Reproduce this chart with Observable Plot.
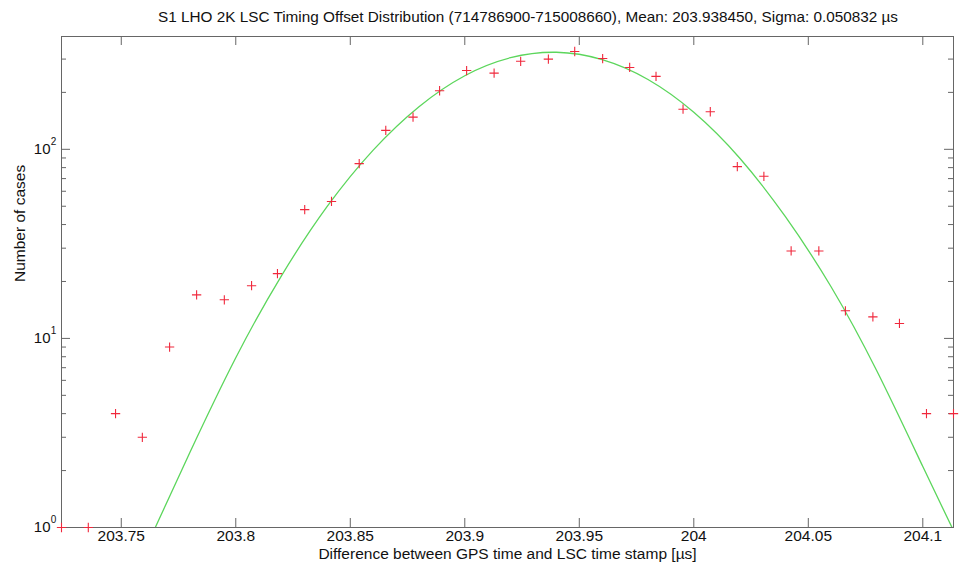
<!DOCTYPE html>
<html><head><meta charset="utf-8">
<script src="https://cdn.jsdelivr.net/npm/d3@7"></script>
<script src="https://cdn.jsdelivr.net/npm/@observablehq/plot@0.6"></script>
<style>
body{margin:0;background:#fff;font-family:"Liberation Sans",Arial,sans-serif;}
#title{height:28px;width:959px;position:relative;}
#title span{position:absolute;left:528px;top:17px;transform:translate(-50%,-50%);white-space:nowrap;font-size:15.3px;color:#111;}
</style></head><body>
<div id="title"><span>S1 LHO 2K LSC Timing Offset Distribution (714786900-715008660), Mean: 203.938450, Sigma: 0.050832 µs</span></div>
<div id="chart"></div>
<script>
// Histogram bins (µs) and counts
const binCenters = [203.7239, 203.7356, 203.7475, 203.7592, 203.7711, 203.7829, 203.7950, 203.8069, 203.8182, 203.8301,
  203.8418, 203.8539, 203.8655, 203.8774, 203.8890, 203.9008, 203.9128, 203.9244, 203.9365, 203.9480,
  203.9602, 203.9720, 203.9835, 203.9953, 204.0072, 204.0190, 204.0306, 204.0425, 204.0546, 204.0662,
  204.0782, 204.0898, 204.1016, 204.1134];
const counts = [1, 1, 4, 3, 9, 17, 16, 19, 22, 48,
  53, 84, 126, 148, 204, 261, 253, 292, 300, 329,
  302, 271, 243, 163, 158, 81, 72, 29, 29, 14,
  13, 12, 4, 4];
// Fitted curve
const fitX = [203.764, 203.78, 203.80, 203.82, 203.84, 203.86, 203.88, 203.90, 203.92, 203.94,
  203.96, 203.98, 204.00, 204.02, 204.04, 204.06, 204.08, 204.10, 204.114];
const fitY = [0.95, 2.5, 7.9, 21.5, 50, 99, 168, 245, 305, 326,
  298, 234, 157, 90, 44, 18.7, 6.7, 2.1, 0.93];
// Axes
const xTicks = [203.75, 203.8, 203.85, 203.9, 203.95, 204, 204.05, 204.1];
const xTickLabels = ["203.75", "203.8", "203.85", "203.9", "203.95", "204", "204.05", "204.1"];
const yMajor = [1, 10, 100];
const yExps = ["0", "1", "2"];
const yMinor = [2, 3, 4, 5, 6, 7, 8, 9, 20, 30, 40, 50, 60, 70, 80, 90, 200, 300];
const xDomain = [203.7239, 204.1134];
const yDomain = [1, 395];

const points = binCenters.map((x, i) => ({x, y: counts[i]}));
const fit = fitX.map((x, i) => ({x, y: fitY[i]}));

const W = 959, H = 546, ML = 61, MR = 6, MT = 8, MB = 47;
const PW = W - ML - MR, PH = H - MT - MB;
const axisColor = "#666";
const majorLen = 9, minorLen = 5;

const chart = Plot.plot({
  width: W, height: H,
  marginLeft: ML, marginRight: MR, marginTop: MT, marginBottom: MB,
  style: {fontFamily: "Liberation Sans, Arial, sans-serif", fontSize: "15px", background: "#fff", color: "#111"},
  x: {domain: xDomain, axis: null},
  y: {type: "log", domain: yDomain, axis: null},
  marks: [
    Plot.frame({stroke: axisColor}),
    // inward ticks
    Plot.ruleX(xTicks, {x: d => d, insetTop: PH - majorLen, stroke: axisColor}),
    Plot.ruleX(xTicks, {x: d => d, insetBottom: PH - majorLen, stroke: axisColor}),
    Plot.ruleY(yMajor, {y: d => d, insetRight: PW - majorLen, stroke: axisColor}),
    Plot.ruleY(yMajor, {y: d => d, insetLeft: PW - majorLen, stroke: axisColor}),
    Plot.ruleY(yMinor, {y: d => d, insetRight: PW - minorLen, stroke: axisColor}),
    Plot.ruleY(yMinor, {y: d => d, insetLeft: PW - minorLen, stroke: axisColor}),
    // tick labels
    Plot.text(xTicks, {x: d => d, frameAnchor: "bottom", dy: 13, text: (d, i) => xTickLabels[i], fontSize: 15.5, fill: "#111"}),
    Plot.text(yMajor, {y: d => d, frameAnchor: "left", dx: -11, textAnchor: "end", text: () => "10", fontSize: 15, fill: "#111"}),
    Plot.text(yMajor, {y: d => d, frameAnchor: "left", dx: -10.7, dy: -8, textAnchor: "start", text: (d, i) => yExps[i], fontSize: 10, fill: "#111"}),
    // axis labels
    Plot.text(["Difference between GPS time and LSC time stamp [µs]"], {frameAnchor: "bottom", dy: 31, fontSize: 15.5, fill: "#111"}),
    Plot.text(["Number of cases"], {frameAnchor: "left", dx: -41.5, rotate: -90, fontSize: 15.5, fill: "#111"}),
    // data
    Plot.line(fit, {x: "x", y: "y", curve: "natural", stroke: "#5cd65c", strokeWidth: 1.3, clip: true}),
    Plot.dot(points, {x: "x", y: "y", symbol: "plus", r: 3.1, stroke: "#f0283c", strokeWidth: 1.1})
  ]
});
document.getElementById("chart").appendChild(chart);
</script>
</body></html>
